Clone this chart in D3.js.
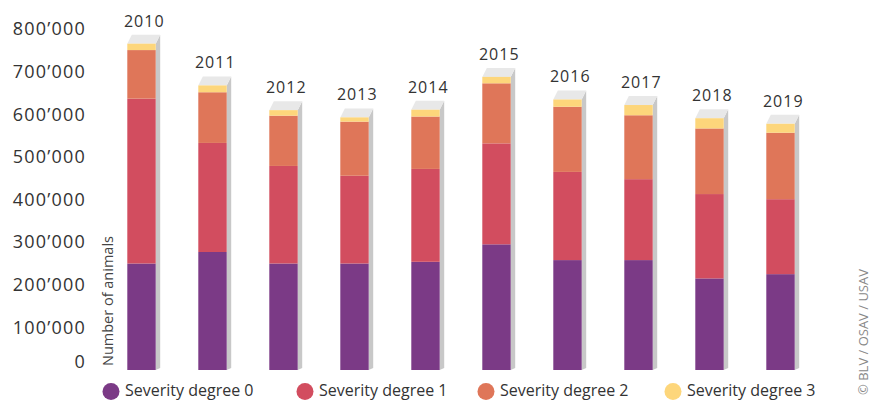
<!DOCTYPE html>
<html>
<head>
<meta charset="utf-8">
<script src="https://cdn.jsdelivr.net/npm/d3@7/dist/d3.min.js"></script>
<style>
  html, body { margin: 0; padding: 0; background: #fff; }
  svg { display: block; font-family: "Open Sans", "Noto Sans", sans-serif; }
</style>
</head>
<body>
<svg id="chart" width="872" height="401"></svg>
<script>
// ---- data ----
const years = ["2010","2011","2012","2013","2014","2015","2016","2017","2018","2019"];
const severity0 = [250000, 277000, 250000, 250000, 254000, 295000, 258000, 258000, 215000, 225000];
const severity1 = [387000, 256000, 229000, 206000, 218000, 237000, 207000, 190000, 198000, 176000];
const severity2 = [114000, 119000, 118000, 127000, 123000, 141000, 153000, 150000, 154000, 156000];
const severity3 = [15000, 16000, 13000, 10000, 16000, 15000, 17000, 24000, 24000, 21000];
const seriesNames = ["Severity degree 0", "Severity degree 1", "Severity degree 2", "Severity degree 3"];
const yTicks = [0, 100000, 200000, 300000, 400000, 500000, 600000, 700000, 800000];
const yTitle = "Number of animals";
const credit = "© BLV / OSAV / USAV";

const colors = ["#7b3a86", "#d24d5f", "#df7659", "#fdd67b"];

const rows = years.map((yr, i) => ({
  year: yr, s0: severity0[i], s1: severity1[i], s2: severity2[i], s3: severity3[i]
}));
const keys = ["s0", "s1", "s2", "s3"];

const svg = d3.select("#chart");
svg.append("rect").attr("width", 872).attr("height", 401).attr("fill", "#fff");

const x = d3.scaleBand().domain(years).range([106, 816]).paddingInner(0.6).paddingOuter(0.3);
const y = d3.scaleLinear().domain([0, 800000]).range([370, 29.2]);

// y axis
const fmt = d => d3.format(",")(d).replace(/,/g, "’");
const axis = svg.append("g")
  .attr("transform", "translate(86,0)")
  .call(d3.axisLeft(y).tickValues(yTicks).tickSize(0).tickPadding(0).tickFormat(fmt));
axis.select(".domain").remove();
axis.selectAll("text")
  .attr("font-family", "'Open Sans', sans-serif")
  .attr("font-size", 18)
  .attr("letter-spacing", "1.2px")
  .attr("fill", "#333");
axis.selectAll(".tick").filter(d => d === 0).select("text").attr("dy", "-0.13em");

// y title
svg.append("text")
  .attr("transform", "translate(113,366) rotate(-90)")
  .attr("font-size", 14.5)
  .attr("fill", "#444")
  .text(yTitle);

// stacked bars
const stack = d3.stack().keys(keys)(rows);
const dx = 4.5, dy = 9;

const bars = svg.append("g");
// 3D side and cap
rows.forEach((r, i) => {
  const x0 = x(r.year), x1 = x0 + x.bandwidth();
  const top = y(r.s0 + r.s1 + r.s2 + r.s3);
  const bottom = y(0);
  bars.append("path")
    .attr("d", `M${x1},${top} L${x1 + dx},${top - dy} L${x1 + dx},${bottom - 2} L${x1},${bottom} Z`)
    .attr("fill", "#c8c8c8");
  bars.append("path")
    .attr("d", `M${x0},${top} L${x0 + dx},${top - dy} L${x1 + dx},${top - dy} L${x1},${top} Z`)
    .attr("fill", "#e8e8e8");
});

stack.forEach((layer, k) => {
  bars.selectAll(null).data(layer).enter().append("rect")
    .attr("x", d => x(d.data.year))
    .attr("width", x.bandwidth())
    .attr("y", d => y(d[1]))
    .attr("height", d => y(d[0]) - y(d[1]))
    .attr("fill", colors[k]);
});

// year labels
svg.append("g").selectAll("text").data(rows).enter().append("text")
  .attr("x", d => x(d.year) + x.bandwidth() / 2 + dx / 2 + 0.5)
  .attr("y", d => y(d.s0 + d.s1 + d.s2 + d.s3) - 17)
  .attr("text-anchor", "middle")
  .attr("font-size", 16)
  .attr("letter-spacing", "1px")
  .attr("fill", "#333")
  .text(d => d.year);

// legend
const legendX = [111, 305, 486, 673];
const legend = svg.append("g");
seriesNames.forEach((name, i) => {
  legend.append("circle").attr("cx", legendX[i]).attr("cy", 391.5).attr("r", 8.5).attr("fill", colors[i]);
  legend.append("text")
    .attr("x", legendX[i] + 14).attr("y", 396)
    .attr("font-size", 16).attr("fill", "#333")
    .text(name);
});

// credit
svg.append("text")
  .attr("transform", "translate(868,332) rotate(-90)")
  .attr("text-anchor", "middle")
  .attr("font-size", 13)
  .attr("fill", "#888")
  .text(credit);
</script>
</body>
</html>
